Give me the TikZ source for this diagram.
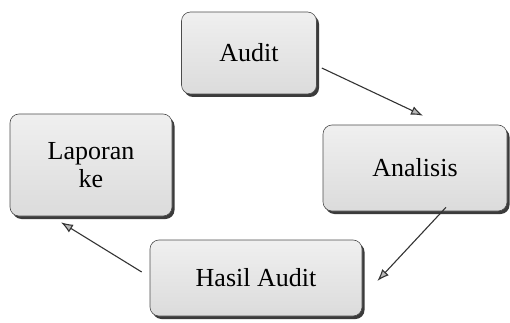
\documentclass[tikz,border=0pt]{standalone}
\usepackage{fontspec}
\setmainfont{Liberation Serif}
\usetikzlibrary{shadows,arrows.meta,calc}
\begin{document}
\begin{tikzpicture}[x=1pt,y=-1pt,
  box/.style={draw=gray!60!black,line width=0.6pt,rounded corners=9pt,
    top color=gray!12,bottom color=gray!28,
    drop shadow={shadow xshift=2.5pt,shadow yshift=-3pt,fill=black!85,opacity=0.9},
    align=center,font=\fontsize{26}{28}\selectfont,inner sep=0pt},
  arr/.style={draw=black!80,line width=1.1pt,-{Latex[length=12pt,width=9pt,fill=gray!55]}}]
\useasboundingbox (0,0) rectangle (510,323);
\node[box,minimum width=135pt,minimum height=82pt] (audit) at (249,53) {Audit};
\node[box,minimum width=162pt,minimum height=102pt] (lap) at (91,165) {Laporan\\ke};
\node[box,minimum width=184pt,minimum height=86pt] (ana) at (415,168) {Analisis};
\node[box,minimum width=212pt,minimum height=76pt] (has) at (256,278) {Hasil Audit};
\coordinate (a1) at ($(audit.east)+(5,15)$); \coordinate (a2) at ($(ana.north)+(8,-9)$);
\coordinate (b1) at ($(ana.south)+(31,-4)$); \coordinate (b2) at ($(has.east)+(15,3)$);
\coordinate (c1) at ($(has.west)+(-8,-6)$); \coordinate (c2) at ($(lap.south)+(-30,6)$);
\draw[arr] (a1) -- (a2);
\draw[arr] (b1) -- (b2);
\draw[arr] (c1) -- (c2);
\end{tikzpicture}
\end{document}
